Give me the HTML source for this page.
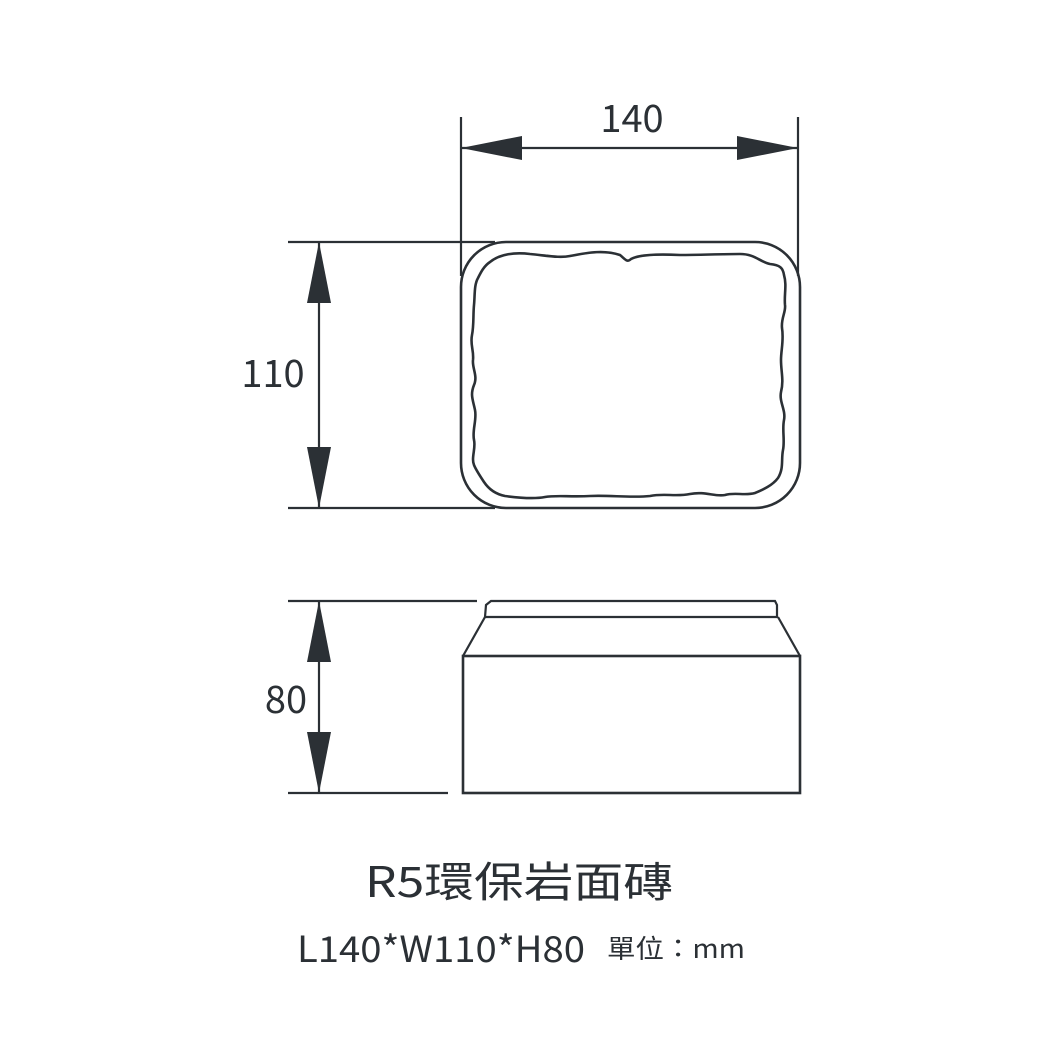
<!DOCTYPE html>
<html><head><meta charset="utf-8"><style>
html,body{margin:0;padding:0;background:#fff;}
svg{display:block;}
text{font-family:"Noto Sans CJK TC","Liberation Sans",sans-serif;fill:#2b3035;}
</style></head><body>
<svg width="1042" height="1042" viewBox="0 0 1042 1042" xmlns="http://www.w3.org/2000/svg">
<g stroke="#2b3035" fill="none" stroke-width="2.2">
<!-- top view dims -->
<line x1="461" y1="117" x2="461" y2="276"/>
<line x1="798" y1="117" x2="798" y2="276"/>
<line x1="461" y1="148" x2="798" y2="148"/>
<line x1="288" y1="242" x2="495" y2="242"/>
<line x1="288" y1="508" x2="495" y2="508"/>
<line x1="319" y1="242" x2="319" y2="508"/>
<!-- outer rounded rect -->
<rect x="461" y="242" width="339" height="266" rx="45" ry="45" stroke-width="2.6"/>
<!-- wavy inner -->
<path stroke-width="2.6" d="M490 262 C500 254 515 252 530 254 C550 256 560 258 570 256 C590 252 605 250 620 255 C625 259 627 263 631 259 C640 254 660 254 680 255 C700 255 720 254 740 254 C755 254 760 262 770 264 C780 265 783 268 784 275 C787 285 784 295 785 305 C786 312 781 318 782 328 C784 340 781 350 781 360 C781 372 784 380 781 392 C779 402 786 410 784 420 C782 430 785 440 783 450 C781 460 784 468 778 478 C772 486 762 490 755 493 C745 496 735 492 725 495 C715 497 705 491 690 494 C675 497 665 493 650 496 C630 498 610 495 590 496 C570 497 555 495 545 497 C535 499 520 498 505 496 C495 494 488 488 484 482 C480 476 476 470 474 465 C471 458 476 448 474 440 C472 430 477 420 475 410 C473 400 470 395 474 385 C478 376 472 368 473 360 C474 350 470 345 472 335 C474 325 473 315 474 305 C475 295 474 285 478 278 C481 272 484 266 490 262 Z"/>
<!-- side view -->
<line x1="288" y1="601" x2="477" y2="601"/>
<line x1="288" y1="793" x2="448" y2="793"/>
<line x1="319" y1="601" x2="319" y2="793"/>
<path d="M485 617 L486 605 L491 601 L775 601 L777 605 L777 617"/>
<line x1="485" y1="617" x2="778" y2="617"/>
<path d="M485 617 L463 656 M778 617 L800 656"/>
<rect x="463" y="656" width="337" height="137" stroke-width="2.6"/>
</g>
<g fill="#2b3035">
<polygon points="461,148 522,136 522,160"/>
<polygon points="798,148 737,136 737,160"/>
<polygon points="319,242 307,303 331,303"/>
<polygon points="319,508 307,447 331,447"/>
<polygon points="319,601 307,662 331,662"/>
<polygon points="319,793 307,732 331,732"/>
</g>
<text x="632" y="132" font-size="38" text-anchor="middle">140</text>
<text x="273" y="387" font-size="38" text-anchor="middle">110</text>
<text x="286" y="713" font-size="38" text-anchor="middle">80</text>
<text x="365" y="897" font-size="42" textLength="308" lengthAdjust="spacingAndGlyphs">R5環保岩面磚</text>
<text x="297" y="962" font-size="36" textLength="288" lengthAdjust="spacingAndGlyphs">L140*W110*H80</text>
<text x="607" y="958" font-size="26" textLength="138" lengthAdjust="spacingAndGlyphs">單位：mm</text>
</svg>
</body></html>
